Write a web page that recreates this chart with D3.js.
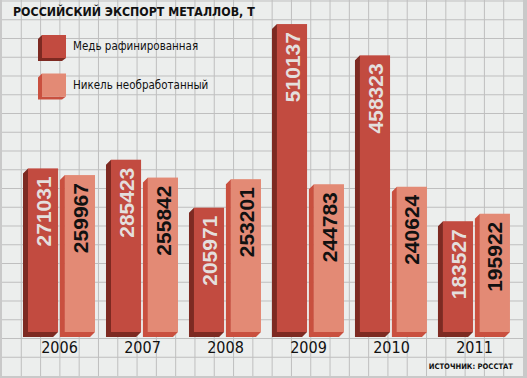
<!DOCTYPE html>
<html>
<head>
<meta charset="utf-8">
<script src="https://cdn.jsdelivr.net/npm/d3@7"></script>
<style>
html, body { margin: 0; padding: 0; background: #eceeed; }
svg { display: block; }
</style>
</head>
<body>
<svg id="chart" width="527" height="378"></svg>
<script>
var years = ["2006", "2007", "2008", "2009", "2010", "2011"];
var seriesNames = ["Медь рафинированная", "Никель необработанный"];
var copper = [271031, 285423, 205971, 510137, 458323, 183527];
var nickel = [259967, 255842, 253201, 244783, 240624, 195922];
var title = "РОССИЙСКИЙ ЭКСПОРТ МЕТАЛЛОВ, Т";
var source = "ИСТОЧНИК: РОССТАТ";

var W = 527, H = 378,
    depth = 5,
    narrow = "'Liberation Sans Narrow', 'DejaVu Sans Condensed', 'Liberation Sans', sans-serif",
    styles = [
      { front: "#c24b40", side: "#7d2a22", text: "#e4dfdd" },
      { front: "#e38a75", side: "#c9503f", text: "#111111" }
    ];

var svg = d3.select("#chart");

// background grid
svg.append("rect").attr("width", W).attr("height", H).attr("fill", "#eceeed");
var grid = svg.append("g").attr("stroke", "#bfbfbf").attr("stroke-width", 1);
grid.selectAll(".gv").data(d3.range(1, 27)).enter().append("line")
    .attr("x1", function (i) { return 2 + i * 521 / 27; })
    .attr("x2", function (i) { return 2 + i * 521 / 27; })
    .attr("y1", 0).attr("y2", 376);
grid.selectAll(".gh").data(d3.range(0, 20)).enter().append("line")
    .attr("y1", function (i) { return 1 + i * 18.75; })
    .attr("y2", function (i) { return 1 + i * 18.75; })
    .attr("x1", 2).attr("x2", 523);
// frame
svg.append("rect").attr("x", 523).attr("y", 0).attr("width", 4).attr("height", H).attr("fill", "#c9c9c9");
svg.append("rect").attr("x", 0).attr("y", 376).attr("width", W).attr("height", 2).attr("fill", "#c9c9c9");
svg.append("rect").attr("x", 0).attr("y", 0).attr("width", 2).attr("height", H).attr("fill", "#c9c9c9");

var x0 = d3.scaleBand().domain(years).range([23, 511]).paddingInner(0.12).paddingOuter(0);
var x1 = d3.scaleBand().domain([0, 1]).range([0, 72]).paddingInner(0.05);
var y = d3.scaleLinear().domain([0, 550000]).range([332, 0]);

var rows = years.map(function (yr, i) {
  return { year: yr, vals: [copper[i], nickel[i]] };
});

var groups = svg.append("g").selectAll("g.year").data(rows).enter().append("g")
    .attr("class", "year")
    .attr("transform", function (d) { return "translate(" + x0(d.year) + ",0)"; });

var bars = groups.selectAll("g.bar").data(function (d) {
  return d.vals.map(function (v, k) { return { v: v, k: k }; });
}).enter().append("g").attr("class", "bar");

bars.each(function (d) {
  var g = d3.select(this),
      s = styles[d.k],
      left = x1(d.k),
      fx = left + depth,
      fw = x1.bandwidth() - depth,
      top = y(d.v),
      bot = y(0);
  // side + bottom faces
  g.append("path")
      .attr("d", "M" + fx + "," + top + "L" + left + "," + (top + depth) +
                 "L" + left + "," + (bot + depth) + "L" + (fx + fw - depth) + "," + (bot + depth) +
                 "L" + (fx + fw) + "," + bot + "L" + fx + "," + bot + "Z")
      .attr("fill", s.side);
  g.append("rect").attr("x", fx).attr("y", top).attr("width", fw).attr("height", bot - top)
      .attr("fill", s.front);
  g.append("text")
      .attr("transform", "translate(" + (fx + fw / 2) + "," + (top + 8) + ") rotate(-90)")
      .attr("text-anchor", "end")
      .attr("dy", "0.36em")
      .style("font-family", "'Liberation Sans', Arial, sans-serif")
      .style("font-weight", "bold")
      .style("font-size", "21px")
      .attr("fill", s.text)
      .text(d.v);
});

// year labels
groups.append("text")
    .attr("x", x0.bandwidth() / 2)
    .attr("y", 353)
    .attr("text-anchor", "middle")
    .style("font-family", narrow)
    .style("font-size", "16px")
    .attr("fill", "#111")
    .text(function (d) { return d.year; });

// title
svg.append("text").attr("x", 13).attr("y", 16)
    .style("font-family", narrow).style("font-weight", "bold").style("font-size", "12.3px")
    .attr("fill", "#111").text(title);

// legend
var legend = svg.append("g").selectAll("g").data(seriesNames).enter().append("g")
    .attr("transform", function (d, i) { return "translate(42," + (35 + i * 38.5) + ")"; });
legend.append("path")
    .attr("d", "M0,0L-4,4L-4,26L20,26L24,23L0,23Z")
    .attr("fill", function (d, i) { return styles[i].side; });
legend.append("rect").attr("width", 24).attr("height", 23)
    .attr("fill", function (d, i) { return styles[i].front; });
legend.append("text")
    .attr("transform", "translate(31,15) scale(0.885,1)")
    .style("font-family", narrow).style("font-size", "13px")
    .attr("fill", "#111").text(function (d) { return d; });

// source
svg.append("text").attr("x", 513).attr("y", 369).attr("text-anchor", "end")
    .style("font-family", narrow).style("font-weight", "bold").style("font-size", "7.6px")
    .attr("fill", "#111").text(source);
</script>
</body>
</html>
